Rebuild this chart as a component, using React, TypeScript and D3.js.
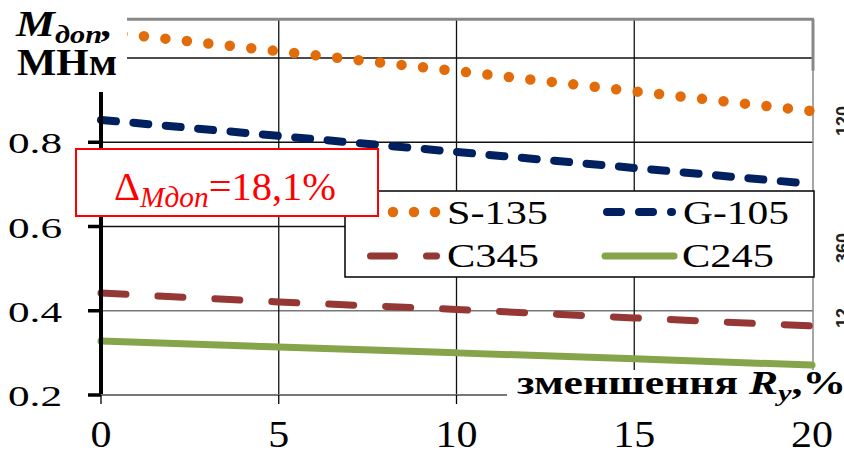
import React, { useEffect, useRef } from 'react';
import * as d3 from 'd3';

// зменшення Ry, %
const reduction = [0, 5, 10, 15, 20];
// M доп, МНм
const s135 = [1.063, 1.016, 0.969, 0.921, 0.874];
const g105 = [0.853, 0.815, 0.777, 0.739, 0.701];
const c345 = [0.442, 0.421, 0.403, 0.383, 0.364];
const c245 = [0.328, 0.314, 0.3, 0.286, 0.271];

const yTickValues = [0.2, 0.4, 0.6, 0.8];
const xTickValues = [0, 5, 10, 15, 20];
const yGridValues = [0.4, 0.6, 0.8, 1.0];
const xGridValues = [5, 10, 15];
const seriesNames = ['S-135', 'G-105', 'C345', 'C245'];
const edgeLabels = ['120', '360', '12'];

const SERIF = '"Liberation Serif", "Times New Roman", serif';

const styles = [
  { color: '#E36C0A', width: 10.5, dash: '0 21.6' },
  { color: '#002060', width: 8, dash: '15 17.5' },
  { color: '#953735', width: 7, dash: '25 32' },
  { color: '#86A44A', width: 7, dash: null as string | null },
];

export default function App() {
  const ref = useRef<SVGSVGElement>(null);

  useEffect(() => {
    const W = 844;
    const H = 454;
    const svg = d3.select(ref.current).attr('width', W).attr('height', H);
    svg.selectAll('*').remove();

    const x = d3.scaleLinear().domain([0, 20]).range([101, 812]);
    const y = d3.scaleLinear().domain([0.2, 1.0]).range([395, 58]);
    const top = y(1.092);
    const right = x(20) + 1;

    svg.append('rect').attr('width', W).attr('height', H).attr('fill', '#fff');

    // сітка
    svg.selectAll('.gy').data(yGridValues).enter().append('line')
      .attr('x1', x(0)).attr('x2', right)
      .attr('y1', (d) => y(d)).attr('y2', (d) => y(d))
      .attr('stroke', (d) => (d === 0.4 ? '#777' : '#111'))
      .attr('stroke-width', 1.3);
    svg.selectAll('.gx').data(xGridValues).enter().append('line')
      .attr('x1', (d) => x(d)).attr('x2', (d) => x(d))
      .attr('y1', top).attr('y2', y(0.2))
      .attr('stroke', '#111').attr('stroke-width', 1.3);

    // рамка
    svg.append('line').attr('x1', x(0)).attr('x2', right + 1).attr('y1', top).attr('y2', top)
      .attr('stroke', '#888').attr('stroke-width', 3);
    svg.append('line').attr('x1', right).attr('x2', right).attr('y1', top).attr('y2', y(0.2))
      .attr('stroke', '#888').attr('stroke-width', 1.5);
    svg.append('line').attr('x1', right).attr('x2', right).attr('y1', top).attr('y2', y(0.97))
      .attr('stroke', '#888').attr('stroke-width', 3);

    const line = d3.line<number>()
      .curve(d3.curveMonotoneX)
      .x((d, i) => x(reduction[i]))
      .y((d) => y(d));

    [s135, g105, c345, c245].forEach((values, i) => {
      const st = styles[i];
      const p = svg.append('path')
        .attr('d', line(values))
        .attr('fill', 'none')
        .attr('stroke', st.color)
        .attr('stroke-width', st.width)
        .attr('stroke-linecap', 'round');
      if (st.dash) p.attr('stroke-dasharray', st.dash);
    });

    // вісь Y
    svg.append('line').attr('x1', x(0)).attr('x2', x(0)).attr('y1', 92).attr('y2', y(0.2) + 1)
      .attr('stroke', '#000').attr('stroke-width', 4);
    svg.selectAll('.ty').data(yTickValues).enter().append('line')
      .attr('x1', x(0) - 13).attr('x2', x(0))
      .attr('y1', (d) => y(d)).attr('y2', (d) => y(d))
      .attr('stroke', '#000').attr('stroke-width', 3.5);
    svg.selectAll('.ly').data(yTickValues).enter().append('text')
      .attr('x', 62).attr('y', (d) => y(d) + 11)
      .attr('text-anchor', 'end')
      .attr('font-family', SERIF).attr('font-size', 30)
      .attr('textLength', 54).attr('lengthAdjust', 'spacingAndGlyphs')
      .text((d) => d.toFixed(1));

    // вісь X
    svg.append('line').attr('x1', x(0)).attr('x2', right).attr('y1', y(0.2)).attr('y2', y(0.2))
      .attr('stroke', '#777').attr('stroke-width', 2);
    svg.selectAll('.tx').data(xTickValues).enter().append('line')
      .attr('x1', (d) => x(d)).attr('x2', (d) => x(d))
      .attr('y1', y(0.2)).attr('y2', y(0.2) + 9)
      .attr('stroke', '#000').attr('stroke-width', 1.3);
    svg.selectAll('.lx').data(xTickValues).enter().append('text')
      .attr('x', (d) => x(d)).attr('y', 447)
      .attr('text-anchor', 'middle')
      .attr('font-family', SERIF).attr('font-size', 37)
      .attr('textLength', (d) => (String(d).length > 1 ? 42 : 21))
      .attr('lengthAdjust', 'spacingAndGlyphs')
      .text((d) => String(d));

    // легенда
    const lg = svg.append('g');
    lg.append('rect').attr('x', 345).attr('y', 191).attr('width', 469).attr('height', 86)
      .attr('fill', '#fff').attr('stroke', '#000').attr('stroke-width', 1.5);
    const legendPos = [
      { sx1: 393, sx2: 436, sy: 212, tx: 447, ty: 224, tw: 101, dash: '0 21' },
      { sx1: 607, sx2: 672, sy: 212, tx: 683, ty: 224, tw: 106, dash: '14 18' },
      { sx1: 370.5, sx2: 436.5, sy: 256, tx: 447, ty: 267, tw: 92, dash: '24 32' },
      { sx1: 605, sx2: 674, sy: 256, tx: 682, ty: 267, tw: 92, dash: null as string | null },
    ];
    seriesNames.forEach((name, i) => {
      const st = styles[i];
      const lp = legendPos[i];
      const l = lg.append('line')
        .attr('x1', lp.sx1).attr('x2', lp.sx2).attr('y1', lp.sy).attr('y2', lp.sy)
        .attr('stroke', st.color).attr('stroke-width', st.width)
        .attr('stroke-linecap', 'round');
      if (lp.dash) l.attr('stroke-dasharray', lp.dash);
      lg.append('text')
        .attr('x', lp.tx).attr('y', lp.ty)
        .attr('font-family', SERIF).attr('font-size', 34)
        .attr('textLength', lp.tw).attr('lengthAdjust', 'spacingAndGlyphs')
        .text(name);
    });

    // Δ
    svg.append('rect').attr('x', 76).attr('y', 149).attr('width', 302).attr('height', 67)
      .attr('fill', '#fff').attr('stroke', '#f00').attr('stroke-width', 2);
    const dt = svg.append('text')
      .attr('x', 114).attr('y', 200)
      .attr('font-family', SERIF).attr('fill', '#f00')
      .attr('textLength', 222).attr('lengthAdjust', 'spacingAndGlyphs');
    dt.append('tspan').attr('font-size', 40).text('Δ');
    dt.append('tspan').attr('font-size', 29).attr('font-style', 'italic').attr('dy', 7).text('Mдоп');
    dt.append('tspan').attr('font-size', 40).attr('dy', -7).text('=18,1%');

    // підпис осі Y
    svg.append('rect').attr('x', 0).attr('y', 0).attr('width', 127).attr('height', 88).attr('fill', '#fff');
    const yt = svg.append('text')
      .attr('x', 16).attr('y', 36)
      .attr('font-family', SERIF).attr('font-weight', 'bold').attr('font-style', 'italic')
      .attr('textLength', 97).attr('lengthAdjust', 'spacingAndGlyphs');
    yt.append('tspan').attr('font-size', 36).text('M');
    yt.append('tspan').attr('font-size', 25).attr('dy', 7).text('доп');
    yt.append('tspan').attr('font-size', 36).attr('dy', -7).text(',');
    svg.append('text')
      .attr('x', 17).attr('y', 75)
      .attr('font-family', SERIF).attr('font-weight', 'bold').attr('font-size', 37)
      .attr('textLength', 100).attr('lengthAdjust', 'spacingAndGlyphs')
      .text('МНм');

    // підпис осі X
    svg.append('rect').attr('x', 507).attr('y', 370).attr('width', W - 507).attr('height', 42).attr('fill', '#fff');
    const xt = svg.append('text')
      .attr('x', 517).attr('y', 394)
      .attr('font-family', SERIF).attr('font-weight', 'bold')
      .attr('textLength', 329).attr('lengthAdjust', 'spacingAndGlyphs');
    xt.append('tspan').attr('font-size', 33).text('зменшення ');
    xt.append('tspan').attr('font-size', 33).attr('font-style', 'italic').text('R');
    xt.append('tspan').attr('font-size', 23).attr('font-style', 'italic').attr('dy', 7).text('y');
    xt.append('tspan').attr('font-size', 33).attr('dy', -7).text(',%');

    // обрізані підписи справа
    const edgeY = [121, 248, 318];
    edgeLabels.forEach((t, i) => {
      svg.append('text')
        .attr('transform', `translate(849,${edgeY[i]}) rotate(-90)`)
        .attr('text-anchor', 'middle')
        .attr('font-family', '"Liberation Sans", Arial, sans-serif')
        .attr('font-size', 18).attr('font-weight', 'bold').attr('fill', '#222')
        .text(t);
    });
  }, []);

  return (
    <div style={{ position: 'fixed', left: 0, top: 0 }}>
      <svg ref={ref} style={{ display: 'block' }} />
    </div>
  );
}
